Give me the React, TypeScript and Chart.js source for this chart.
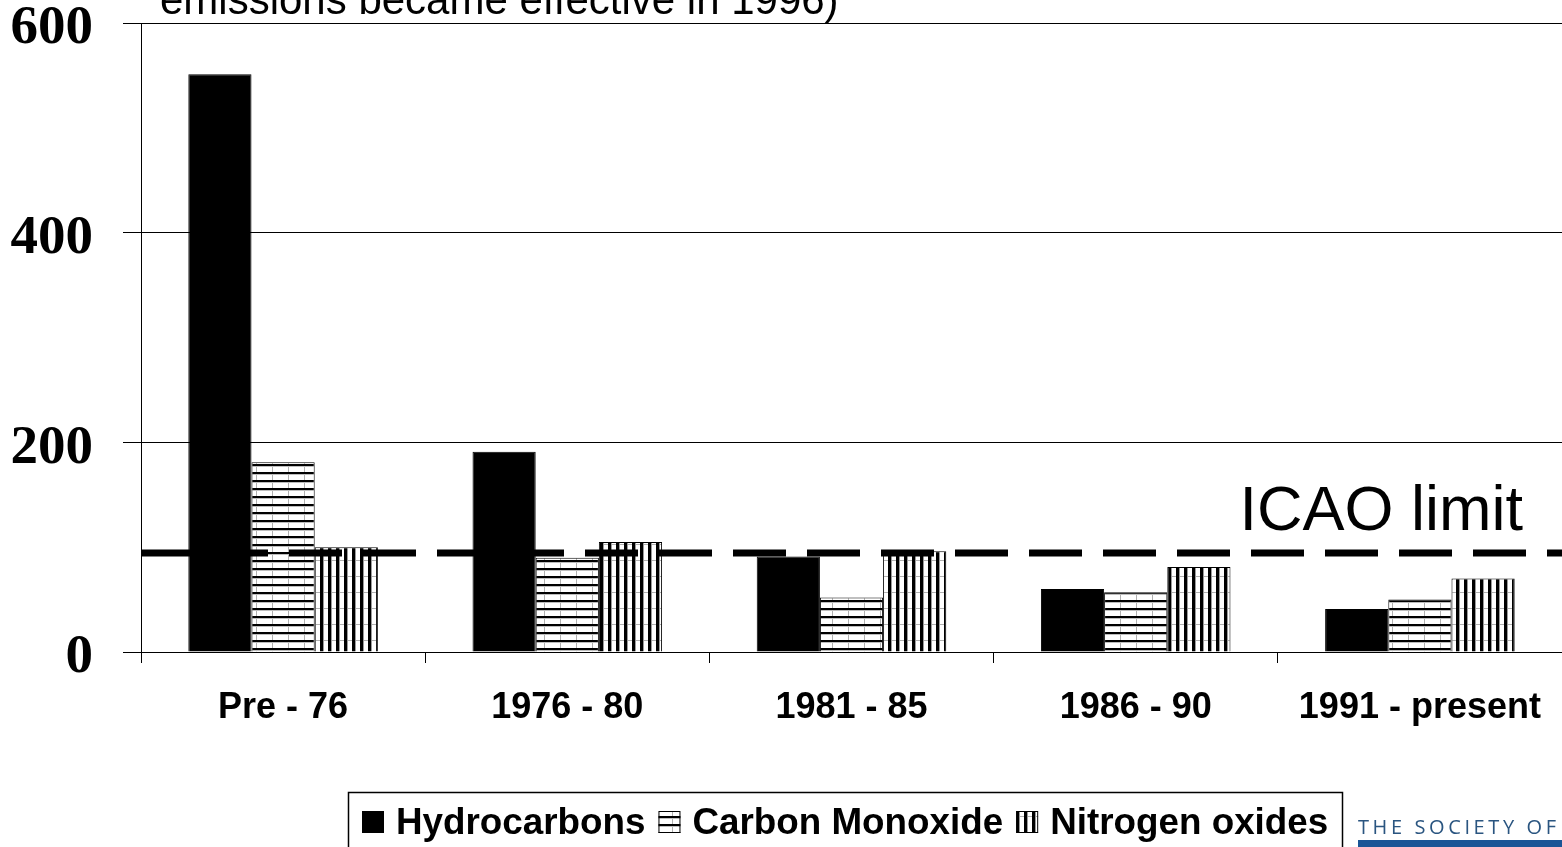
import React, { useEffect, useRef } from 'react';
import { Chart, registerables } from 'chart.js';

Chart.register(...registerables);

const CATEGORIES = ['Pre - 76', '1976 - 80', '1981 - 85', '1986 - 90', '1991 - present'];
const SERIES_NAMES = ['Hydrocarbons', 'Carbon Monoxide', 'Nitrogen oxides'];
const HYDROCARBONS = [551, 191, 91, 60, 41];
const CARBON_MONOXIDE = [181, 90, 52, 57, 50];
const NITROGEN_OXIDES = [100, 105, 96, 81, 70];
const Y_TICKS = [0, 200, 400, 600];
const ICAO_LIMIT = 94.5;
const ICAO_LABEL = 'ICAO limit';
const TITLE_TAIL = 'emissions became effective in 1996)';
const LOGO_TEXT = 'THE SOCIETY OF';

function makeHPattern(ctx: CanvasRenderingContext2D) {
  const c = document.createElement('canvas');
  c.width = 16;
  c.height = 8;
  const g = c.getContext('2d')!;
  g.fillStyle = '#fff';
  g.fillRect(0, 0, 16, 8);
  g.fillStyle = '#000';
  g.fillRect(0, 0, 16, 2);
  g.fillStyle = '#bdbdbd';
  g.fillRect(0, 2, 16, 1);
  g.fillStyle = '#b0b0b0';
  g.fillRect(0, 3, 1, 5);
  return ctx.createPattern(c, 'repeat')!;
}

function makeVPattern(ctx: CanvasRenderingContext2D) {
  const c = document.createElement('canvas');
  c.width = 8;
  c.height = 16;
  const g = c.getContext('2d')!;
  g.fillStyle = '#fff';
  g.fillRect(0, 0, 8, 16);
  g.fillStyle = '#000';
  g.fillRect(0, 0, 3, 16);
  g.fillStyle = '#9a9a9a';
  g.fillRect(3, 0, 1, 16);
  g.fillStyle = '#b0b0b0';
  g.fillRect(4, 0, 4, 1);
  return ctx.createPattern(c, 'repeat')!;
}

export default function App() {
  const ref = useRef<HTMLCanvasElement>(null);

  useEffect(() => {
    document.body.style.margin = '0';
    const canvas = ref.current!;
    const ctx0 = canvas.getContext('2d')!;
    const hPat = makeHPattern(ctx0);
    const vPat = makeVPattern(ctx0);

    const overlay = {
      id: 'overlay',
      afterDatasetsDraw(chart: any) {
        const { ctx, chartArea, scales } = chart;
        const y = scales.y.getPixelForValue(ICAO_LIMIT);
        ctx.save();
        ctx.strokeStyle = '#000';
        ctx.lineWidth = 7;
        ctx.setLineDash([53, 21]);
        ctx.beginPath();
        ctx.moveTo(chartArea.left, y);
        ctx.lineTo(chartArea.right, y);
        ctx.stroke();
        ctx.restore();
      },
      afterDraw(chart: any) {
        const { ctx, chartArea, scales } = chart;
        ctx.save();
        // Title (clipped at top)
        ctx.fillStyle = '#000';
        ctx.font = '42px "Liberation Sans"';
        ctx.textAlign = 'left';
        ctx.textBaseline = 'alphabetic';
        ctx.fillText(TITLE_TAIL, 160, 14);

        // ICAO label
        const y = scales.y.getPixelForValue(ICAO_LIMIT);
        ctx.font = '63px "Liberation Sans"';
        ctx.textAlign = 'right';
        ctx.fillText(ICAO_LABEL, chartArea.right - 39, y - 23);

        // Legend box
        ctx.strokeStyle = '#000';
        ctx.lineWidth = 1.5;
        ctx.strokeRect(348.5, 792.5, 994, 80);
        ctx.font = 'bold 36.8px "Liberation Sans"';
        ctx.textAlign = 'left';
        ctx.textBaseline = 'alphabetic';
        let x = 362;
        const iconTop = 811;
        const iconSize = 22;
        chart.data.datasets.forEach((ds: any) => {
          ctx.fillStyle = ds.backgroundColor;
          ctx.fillRect(x, iconTop, iconSize, iconSize);
          ctx.strokeStyle = '#000';
          ctx.lineWidth = 1;
          ctx.strokeRect(x + 0.5, iconTop + 0.5, iconSize - 1, iconSize - 1);
          x += iconSize + 12;
          ctx.fillStyle = '#000';
          ctx.fillText(ds.label, x, 834);
          x += ctx.measureText(ds.label).width + 13;
        });

        // Logo
        ctx.fillStyle = '#2a5580';
        ctx.font = '20px "Open Sans"';
        (ctx as any).letterSpacing = '3.6px';
        ctx.fillText(LOGO_TEXT, 1358, 834);
        (ctx as any).letterSpacing = '0px';
        ctx.fillStyle = '#1a5596';
        ctx.fillRect(1358, 840, 210, 10);
        ctx.restore();
      },
    };

    const barCommon = {
      borderColor: '#000',
      borderWidth: 1,
      categoryPercentage: 0.667,
      barPercentage: 1.0,
    };

    const chart = new Chart(canvas, {
      type: 'bar',
      data: {
        labels: CATEGORIES,
        datasets: [
          { label: SERIES_NAMES[0], data: HYDROCARBONS, backgroundColor: '#000', ...barCommon },
          { label: SERIES_NAMES[1], data: CARBON_MONOXIDE, backgroundColor: hPat, ...barCommon },
          { label: SERIES_NAMES[2], data: NITROGEN_OXIDES, backgroundColor: vPat, ...barCommon },
        ],
      },
      options: {
        responsive: false,
        animation: false,
        devicePixelRatio: 1,
        layout: { padding: { top: 23, left: 0, right: 0, bottom: 0 } },
        plugins: {
          legend: { display: false },
          tooltip: { enabled: false },
          title: { display: false },
        },
        scales: {
          x: {
            grid: {
              display: true,
              drawOnChartArea: false,
              drawTicks: true,
              tickLength: 11,
              color: '#000',
              lineWidth: 1,
              offset: true,
            },
            border: { display: true, color: '#000', width: 1 },
            ticks: {
              color: '#000',
              font: { family: 'Liberation Sans', size: 36, weight: 'bold' },
              padding: 23,
              maxRotation: 0,
              autoSkip: false,
            },
            afterFit: (s: any) => {
              s.height = 195;
              s.paddingLeft = 0;
              s.paddingRight = 0;
            },
          },
          y: {
            min: 0,
            max: 600,
            grid: { color: '#000', lineWidth: 1, tickLength: 18, drawTicks: true },
            border: { display: true, color: '#000', width: 1 },
            ticks: {
              color: '#000',
              font: { family: 'Liberation Serif', size: 55, weight: 'bold' },
              padding: 30,
              labelOffset: 6,
            },
            afterBuildTicks: (s: any) => {
              s.ticks = Y_TICKS.map((v) => ({ value: v }));
            },
            afterFit: (s: any) => {
              s.width = 141;
              s.paddingTop = 0;
              s.paddingBottom = 0;
            },
          },
        },
      },
      plugins: [overlay],
    } as any);

    return () => chart.destroy();
  }, []);

  return <canvas ref={ref} width={1562} height={847} style={{ display: 'block' }} />;
}
